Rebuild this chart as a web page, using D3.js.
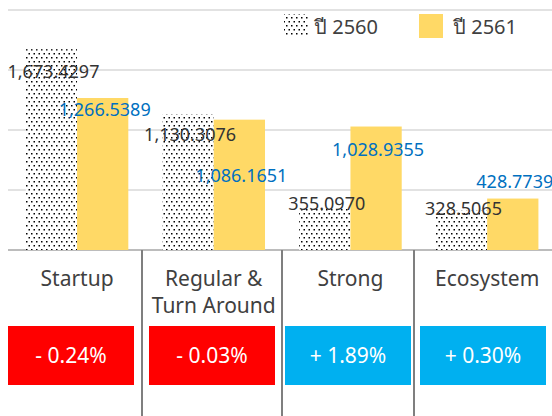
<!DOCTYPE html>
<html>
<head>
<meta charset="utf-8">
<style>
body { margin: 0; background: #fff; }
text { font-family: "Noto Sans", "DejaVu Sans", sans-serif; }
.grid line { stroke: #d9d9d9; stroke-width: 1.5; }
</style>
</head>
<body>
<div id="vis"></div>
<script src="https://cdn.jsdelivr.net/npm/d3@7/dist/d3.min.js"></script>
<script>
// data
var categories = ["Startup", "Regular & Turn Around", "Strong", "Ecosystem"];
var catLines = [["Startup"], ["Regular &", "Turn Around"], ["Strong"], ["Ecosystem"]];
var seriesNames = ["ปี 2560", "ปี 2561"];
var values2560 = [1673.4297, 1130.3076, 355.0970, 328.5065];
var values2561 = [1266.5389, 1086.1651, 1028.9355, 428.7739];
var changeLabels = ["- 0.24%", "- 0.03%", "+ 1.89%", "+ 0.30%"];
var changeSign = [-1, -1, 1, 1];
var yTicks = [0, 500, 1000, 1500, 2000];

// layout (label nudges, table columns)
var labelDy2560 = [29, 27, 3, 4.5];
var labelDy2561 = [18, 62, 29, -11];
var tableEdges = [0, 142, 282, 414, 552];

var width = 552, height = 416;

var svg = d3.select("#vis").append("svg")
    .attr("width", width)
    .attr("height", height);

// dotted pattern
var defs = svg.append("defs");
var pat = defs.append("pattern")
    .attr("id", "dots")
    .attr("patternUnits", "userSpaceOnUse")
    .attr("width", 5)
    .attr("height", 8);
pat.append("rect").attr("width", 5).attr("height", 8).attr("fill", "#fff");
pat.append("rect").attr("x", 1).attr("y", 1).attr("width", 1.5).attr("height", 1.5).attr("fill", "#000");
pat.append("rect").attr("x", 3.5).attr("y", 5).attr("width", 1.5).attr("height", 1.5).attr("fill", "#000");

var x = d3.scaleBand()
    .domain(categories)
    .range([8.7, 555.5])
    .paddingInner(0.25)
    .paddingOuter(0.125);

var xSub = d3.scaleBand()
    .domain(seriesNames)
    .range([0, x.bandwidth()]);

var y = d3.scaleLinear()
    .domain([0, 2000])
    .range([250, 10]);

// gridlines
svg.append("g").attr("class", "grid")
  .selectAll("line")
    .data(yTicks.slice(1))
  .enter().append("line")
    .attr("x1", 8).attr("x2", width)
    .attr("y1", function(d) { return y(d); })
    .attr("y2", function(d) { return y(d); });

// baseline
svg.append("line")
    .attr("x1", 8).attr("x2", width)
    .attr("y1", y(0)).attr("y2", y(0))
    .attr("stroke", "#a6a6a6").attr("stroke-width", 1.5);

var rows = categories.map(function(c, i) {
  return {cat: c, v0: values2560[i], v1: values2561[i], i: i};
});

// bars 2560
svg.selectAll(".bar2560")
    .data(rows)
  .enter().append("rect")
    .attr("class", "bar2560")
    .attr("x", function(d) { return x(d.cat) + xSub(seriesNames[0]); })
    .attr("width", xSub.bandwidth())
    .attr("y", function(d) { return y(d.v0); })
    .attr("height", function(d) { return y(0) - y(d.v0); })
    .attr("fill", "url(#dots)");

// bars 2561
svg.selectAll(".bar2561")
    .data(rows)
  .enter().append("rect")
    .attr("class", "bar2561")
    .attr("x", function(d) { return x(d.cat) + xSub(seriesNames[1]); })
    .attr("width", xSub.bandwidth())
    .attr("y", function(d) { return y(d.v1); })
    .attr("height", function(d) { return y(0) - y(d.v1); })
    .attr("fill", "#ffd966");

var fmt = d3.format(",.4f");

// value labels
svg.selectAll(".lab2560")
    .data(rows)
  .enter().append("text")
    .attr("x", function(d) { return x(d.cat) + xSub(seriesNames[0]) + xSub.bandwidth() / 2 + 2; })
    .attr("y", function(d) { return y(d.v0) + labelDy2560[d.i]; })
    .attr("text-anchor", "middle")
    .attr("font-size", 18)
    .attr("fill", "#333")
    .text(function(d) { return fmt(d.v0); });

svg.selectAll(".lab2561")
    .data(rows)
  .enter().append("text")
    .attr("x", function(d) { return x(d.cat) + xSub(seriesNames[1]) + xSub.bandwidth() / 2 + 2; })
    .attr("y", function(d) { return y(d.v1) + labelDy2561[d.i]; })
    .attr("text-anchor", "middle")
    .attr("font-size", 18)
    .attr("fill", "#0070c0")
    .text(function(d) { return fmt(d.v1); });

// legend
var legend = svg.append("g");
legend.append("rect").attr("x", 284).attr("y", 14).attr("width", 24).attr("height", 22).attr("fill", "url(#dots)");
legend.append("text").attr("x", 314).attr("y", 34).attr("font-size", 20).attr("fill", "#404040").text(seriesNames[0]);
legend.append("rect").attr("x", 419).attr("y", 14).attr("width", 24).attr("height", 24).attr("fill", "#ffd966");
legend.append("text").attr("x", 453).attr("y", 34).attr("font-size", 20).attr("fill", "#404040").text(seriesNames[1]);

// table dividers
svg.selectAll(".divider")
    .data(tableEdges.slice(1, -1))
  .enter().append("line")
    .attr("x1", function(d) { return d; }).attr("x2", function(d) { return d; })
    .attr("y1", y(0)).attr("y2", height)
    .attr("stroke", "#7f7f7f").attr("stroke-width", 2);

// category labels
var catG = svg.selectAll(".cat")
    .data(rows)
  .enter().append("text")
    .attr("text-anchor", "middle")
    .attr("font-size", 21)
    .attr("fill", "#404040");
catG.selectAll("tspan")
    .data(function(d) { return catLines[d.i].map(function(l) { return {l: l, cx: x(d.cat) + x.bandwidth() / 2}; }); })
  .enter().append("tspan")
    .attr("x", function(d) { return d.cx; })
    .attr("y", function(d, j) { return 286 + j * 27; })
    .text(function(d) { return d.l; });

// change boxes
var boxW = 126, boxH = 59;
var boxes = svg.selectAll(".box")
    .data(rows)
  .enter().append("g")
    .attr("transform", function(d) {
      var cx = (tableEdges[d.i] + tableEdges[d.i + 1]) / 2;
      return "translate(" + (cx - boxW / 2) + ",326)";
    });
boxes.append("rect")
    .attr("width", boxW).attr("height", boxH)
    .attr("fill", function(d) { return changeSign[d.i] < 0 ? "#ff0000" : "#00b0f0"; });
boxes.append("text")
    .attr("x", boxW / 2).attr("y", 37)
    .attr("text-anchor", "middle")
    .attr("font-size", 21)
    .attr("fill", "#fff")
    .text(function(d) { return changeLabels[d.i]; });
</script>
</body>
</html>
